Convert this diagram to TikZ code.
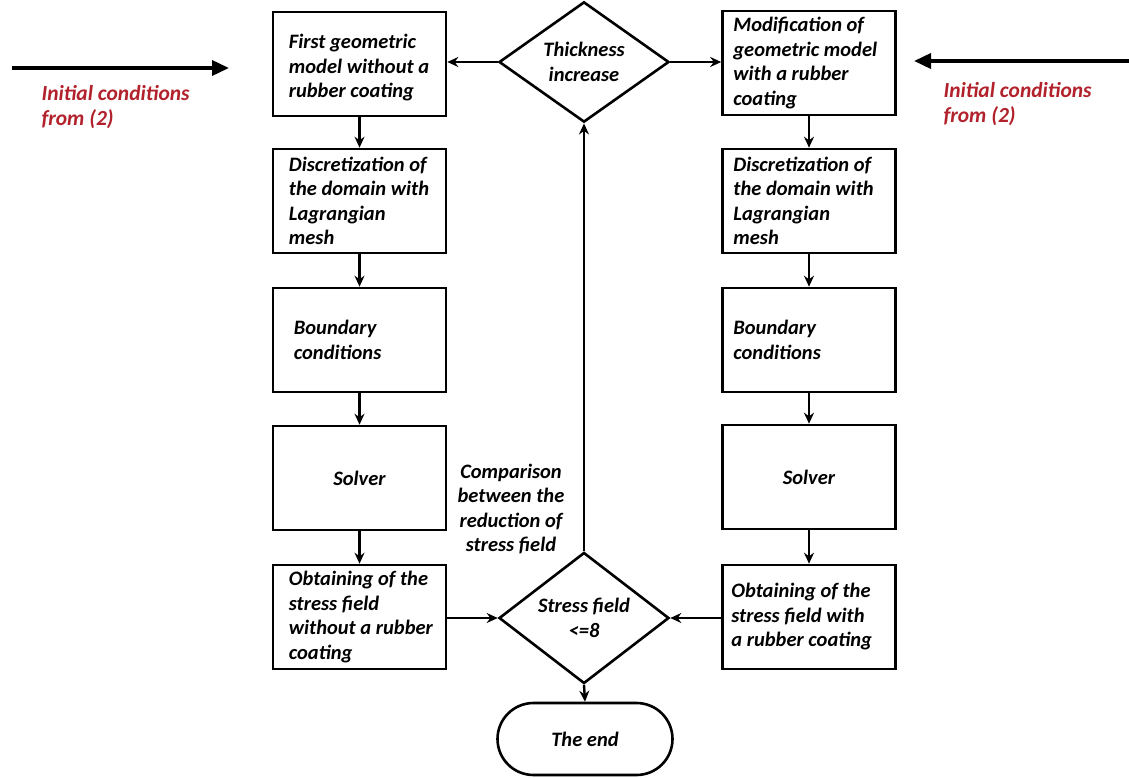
\documentclass[tikz,border=0pt]{standalone}
\usepackage{fontspec}
\setmainfont{Carlito}
\usetikzlibrary{shapes.geometric,arrows.meta}
\definecolor{redtxt}{RGB}{178,34,44}
\begin{document}
\begin{tikzpicture}[x=1pt,y=-1pt,
  every node/.style={font=\fontsize{20.5}{24.5}\selectfont\bfseries\itshape},
  box/.style={draw,line width=2.6pt,minimum width=173pt,minimum height=104pt,inner sep=0pt},
  btxt/.style={anchor=west,align=left,inner sep=0pt},
  dia/.style={draw,diamond,line width=2.6pt,minimum width=170pt,minimum height=104pt,align=center,inner sep=0pt},
  term/.style={draw,line width=2.6pt,rounded corners=36pt,minimum width=175pt,minimum height=72pt,inner sep=0pt},
  arr/.style={line width=2.4pt,-{Stealth[length=11pt,width=10pt]}},
  bigarr/.style={line width=3.6pt,-{Triangle[length=17pt,width=15pt]}},
  redlab/.style={text=redtxt,align=left,anchor=west,font=\fontsize{21.5}{24.5}\selectfont\bfseries\itshape}]
\useasboundingbox (0,0) rectangle (1129,778);

% left column
\node[box] (l1) at (359.5,64) {};
\node[box] (l2) at (359.5,201) {};
\node[box] (l3) at (359.5,340) {};
\node[box] (l4) at (359.5,478) {Solver};
\node[box] (l5) at (359.5,617) {};
\node[btxt] (t1) at ([xshift=17pt,yshift=-4pt]l1.west) {First geometric\\model without a\\rubber coating};
\node[btxt] (t2) at ([xshift=17pt]l2.west) {Discretization of\\the domain with\\Lagrangian\\mesh};
\node[btxt] (t3) at ([xshift=22pt]l3.west) {Boundary\\conditions};
\node[btxt] (t5) at ([xshift=17pt]l5.west) {Obtaining of the\\stress field\\without a rubber\\coating};

% right column
\node[box] (r1) at (809,63) {};
\node[box] (r2) at (809,201) {};
\node[box] (r3) at (809,340) {};
\node[box] (r4) at (809,477) {Solver};
\node[box] (r5) at (809,617) {};
\node[btxt] (u1) at ([xshift=12pt]r1.west) {Modification of\\geometric model\\with a rubber\\coating};
\node[btxt] (u2) at ([xshift=12pt]r2.west) {Discretization of\\the domain with\\Lagrangian\\mesh};
\node[btxt] (u3) at ([xshift=12pt]r3.west) {Boundary\\conditions};
\node[btxt] (u5) at ([xshift=10pt]r5.west) {Obtaining of the\\stress field with\\a rubber coating};

% diamonds and terminal
\node[dia] (thick) at (584,62) {Thickness\\increase};
\node[dia] (stress) at (584,618) {Stress field\\{<=8}};
\node[term] (end) at (585,739) {The end};

% comparison label
\node[align=center] (cmp) at (511,509) {Comparison\\between the\\reduction of\\stress field};

% red labels
\node[redlab] (ll) at (38,107) {Initial conditions\\from (2)};
\node[redlab] (rl) at (940,104) {Initial conditions\\from (2)};

% external arrows
\coordinate (la) at (12,68);
\coordinate (lb) at (229,68);
\coordinate (ra) at (1129,61);
\coordinate (rb) at (914,61);
\draw[bigarr] (la) -- (lb);
\draw[bigarr] (ra) -- (rb);

% internal arrows
\draw[arr] (l1) -- (l2);
\draw[arr] (l2) -- (l3);
\draw[arr] (l3) -- (l4);
\draw[arr] (l4) -- (l5);
\draw[arr] (r1) -- (r2);
\draw[arr] (r2) -- (r3);
\draw[arr] (r3) -- (r4);
\draw[arr] (r4) -- (r5);
\draw[arr] (thick.west) -- (thick.west -| l1.east);
\draw[arr] (thick.east) -- (thick.east -| r1.west);
\draw[arr] (l5.east |- stress.west) -- (stress.west);
\draw[arr] (r5.west |- stress.east) -- (stress.east);
\draw[arr] (stress.north) -- (thick.south);
\draw[arr] (stress.south) -- (end.north);
\end{tikzpicture}
\end{document}
